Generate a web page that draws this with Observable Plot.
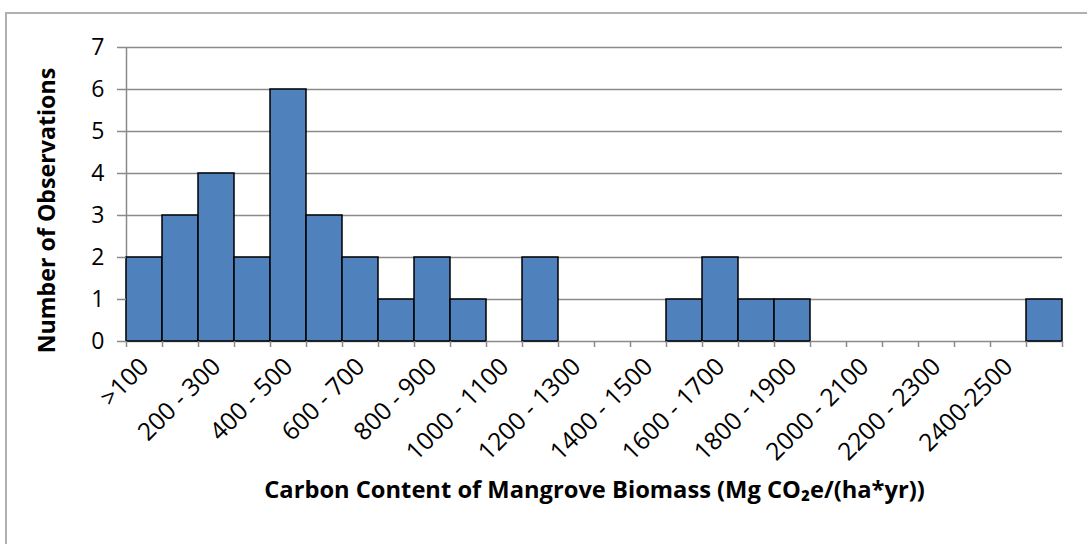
<!DOCTYPE html>
<html>
<head>
<meta charset="utf-8">
<script src="https://cdn.jsdelivr.net/npm/d3@7"></script>
<script src="https://cdn.jsdelivr.net/npm/@observablehq/plot@0.6"></script>
<style>
  html, body { margin: 0; padding: 0; background: #fff; }
  #wrap { position: relative; width: 1087px; height: 544px; overflow: hidden; }
  #frame { position: absolute; left: 5px; top: 12px; width: 1200px; height: 700px; border: 2px solid #b0b0b0; box-sizing: border-box; }
  #chart { position: absolute; left: 0; top: 0; }
  svg { font-family: "Open Sans", sans-serif; }
</style>
</head>
<body>
<div id="wrap"><div id="frame"></div><div id="chart"></div></div>
<script>
const categories = [">100", "100 - 200", "200 - 300", "300 - 400", "400 - 500", "500 - 600", "600 - 700",
  "700 - 800", "800 - 900", "900 - 1000", "1000 - 1100", "1100 - 1200", "1200 - 1300", "1300 - 1400",
  "1400 - 1500", "1500 - 1600", "1600 - 1700", "1700 - 1800", "1800 - 1900", "1900 - 2000",
  "2000 - 2100", "2100 - 2200", "2200 - 2300", "2300 - 2400", "2400-2500", ">2500"];
const counts = [2, 3, 4, 2, 6, 3, 2, 1, 2, 1, 0, 2, 0, 0, 0, 1, 2, 1, 1, 0, 0, 0, 0, 0, 0, 1];
const yTicks = [0, 1, 2, 3, 4, 5, 6, 7];
const xTitle = "Carbon Content of Mangrove Biomass (Mg CO\u2082e/(ha*yr))";
const yTitle = "Number of Observations";

const data = categories.map((c, i) => ({i, label: c, count: counts[i]}));
const labelPositions = data.filter(d => d.i % 2 === 0).map(d => d.i + 0.5);

const plot = Plot.plot({
  width: 1087,
  height: 544,
  marginLeft: 126,
  marginRight: 25,
  marginTop: 47,
  marginBottom: 203,
  x: {type: "linear", domain: [0, categories.length]},
  y: {domain: [0, 7]},
  marks: [
    Plot.ruleY(yTicks, {stroke: "#8a8a8a", strokeWidth: 1.5}),
    Plot.ruleX([0], {stroke: "#8a8a8a", strokeWidth: 1.5}),
    Plot.rectY(data.filter(d => d.count > 0), {x1: "i", x2: d => d.i + 1, y: "count", fill: "#4f81bd", stroke: "#000", strokeWidth: 1.5}),
    Plot.axisY({ticks: yTicks, tickSize: 9, tickPadding: 13, fontSize: 23, stroke: "#8a8a8a", strokeWidth: 1.5, label: null, tickFormat: d => d, fill: "#000"}),
    Plot.axisX({ticks: d3.range(0, categories.length + 1), tickSize: 6, tickFormat: () => "", stroke: "#8a8a8a", strokeWidth: 1.5, label: null}),
    Plot.axisX({ticks: labelPositions, tickSize: 0, tickPadding: 21, tickRotate: -45, fontSize: 24.5, tickFormat: d => categories[Math.floor(d)], label: null, fill: "#000"}),
    Plot.text([yTitle], {frameAnchor: "left", textAnchor: "middle", dx: -79, dy: 16, rotate: -90, fontSize: 23.2, fontWeight: "bold", fill: "#000"}),
    Plot.text([xTitle], {frameAnchor: "bottom", dy: 156, fontSize: 23.7, fontWeight: "bold", fill: "#000"})
  ]
});
document.getElementById("chart").appendChild(plot);
</script>
</body>
</html>
